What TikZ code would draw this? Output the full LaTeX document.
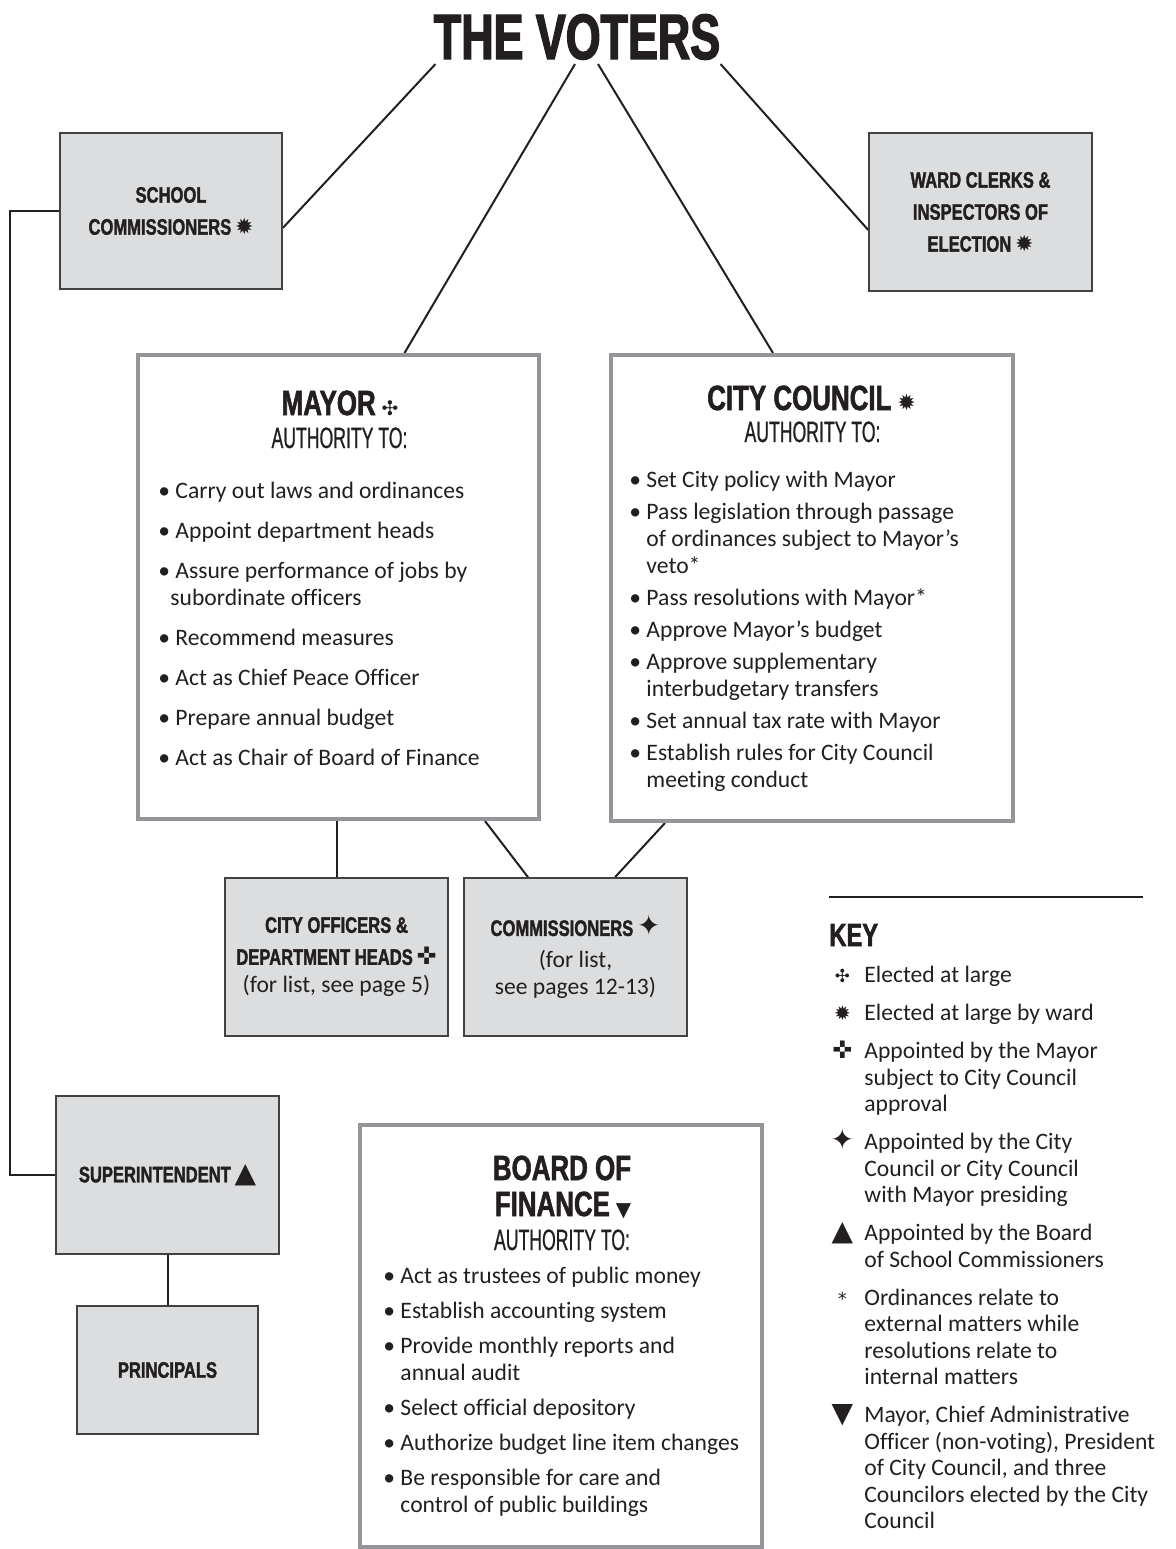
\documentclass[tikz,border=0pt]{standalone}
\usepackage{fontspec}
\setmainfont[Ligatures=NoCommon]{Carlito}
\newfontfamily\headfont[FakeStretch=0.74,BoldFeatures={FakeBold=1.6}]{Liberation Sans}
\newfontfamily\titlefont[FakeStretch=0.7,BoldFeatures={FakeBold=2.2}]{Liberation Sans}
\newfontfamily\subheadfont[FakeStretch=0.6,FakeBold=0.7]{Liberation Sans}
\newfontfamily\symfont{DejaVu Sans}
\usetikzlibrary{backgrounds}

\definecolor{ink}{HTML}{231F20}
\definecolor{boxgray}{HTML}{DCDDDE}
\definecolor{framegray}{HTML}{939598}

% symbol at a given size
\newcommand{\sym}[2]{{\symfont\fontsize{#1}{#1}\selectfont #2}}
\newcommand{\keysym}[2]{\makebox[16pt][l]{\makebox[10pt][c]{\sym{#1}{#2}}}}
\newcommand{\keyrest}{\hspace*{16pt}}

\begin{document}
\begin{tikzpicture}[x=0.5pt, y=-0.5pt,
    graybox/.style={draw=ink!85, line width=0.8pt, fill=boxgray, align=center, inner sep=0pt, text=ink,
      font=\headfont\bfseries\fontsize{11.2}{16}\selectfont},
    bigbox/.style={draw=framegray, line width=2pt, fill=white, inner sep=0pt},
    heading/.style={anchor=base, inner sep=0pt, text=ink, font=\headfont\bfseries\fontsize{17.5}{18}\selectfont},
    subhead/.style={anchor=base, inner sep=0pt, text=ink, font=\subheadfont\fontsize{14.7}{15}\selectfont},
    listtxt/.style={anchor=north west, align=left, inner sep=0pt, text=ink, font=\fontsize{11.8}{13.5}\selectfont},
    link/.style={draw=ink, line width=1pt}]

  \useasboundingbox (0,0) rectangle (1175,1549);

  \node[heading, font=\titlefont\bfseries\fontsize{32}{32}\selectfont] (voters) at (577,59) {THE VOTERS};

  % elected offices
  \node[graybox, minimum width=111pt, minimum height=78pt] (school) at (171,211)
    {SCHOOL\\COMMISSIONERS\,\sym{11}{✹}};
  \node[graybox, minimum width=111.5pt, minimum height=79pt] (ward) at (980.5,212)
    {WARD CLERKS \&\\INSPECTORS OF\\ELECTION\,\sym{11}{✹}};

  \node[bigbox, minimum width=200.5pt, minimum height=232pt] (mayor) at (338.5,587) {};
  \node[heading] (mayorhead) at (340,415) {MAYOR\,\sym{10}{✣}};
  \node[subhead] (mayorauth) at (339.5,448) {AUTHORITY TO:};
  \node[listtxt] (mayorlist) at (158,482) {%
    • Carry out laws and ordinances\\[6.5pt]
    • Appoint department heads\\[6.5pt]
    • Assure performance of jobs by\\
    \hspace*{6pt}subordinate officers\\[6.5pt]
    • Recommend measures\\[6.5pt]
    • Act as Chief Peace Officer\\[6.5pt]
    • Prepare annual budget\\[6.5pt]
    • Act as Chair of Board of Finance};

  \node[bigbox, minimum width=201pt, minimum height=233pt] (council) at (812,588) {};
  \node[heading] (councilhead) at (811.5,410) {CITY COUNCIL\,\sym{11}{✹}};
  \node[subhead] (councilauth) at (812.5,442) {AUTHORITY TO:};
  \node[listtxt] (councillist) at (629,471) {%
    • Set City policy with Mayor\\[2.5pt]
    • Pass legislation through passage\\
    \phantom{•} of ordinances subject to Mayor’s\\
    \phantom{•} veto*\\[2.5pt]
    • Pass resolutions with Mayor*\\[2.5pt]
    • Approve Mayor’s budget\\[2.5pt]
    • Approve supplementary\\
    \phantom{•} interbudgetary transfers\\[2.5pt]
    • Set annual tax rate with Mayor\\[2.5pt]
    • Establish rules for City Council\\
    \phantom{•} meeting conduct};

  % appointed offices
  \node[graybox, minimum width=111.5pt, minimum height=79pt] (officers) at (336.5,957)
    {CITY OFFICERS \&\\DEPARTMENT HEADS\,\sym{12}{✜}\\[-2pt]
     {\normalfont\fontsize{11.8}{14}\selectfont (for list, see page 5)}};
  \node[graybox, minimum width=111.5pt, minimum height=79pt] (commish) at (575.5,957)
    {COMMISSIONERS\,\sym{14}{✦}\\
     {\normalfont\fontsize{11.8}{14}\selectfont (for list,}\\[-2.5pt]
     {\normalfont\fontsize{11.8}{14}\selectfont see pages 12-13)}};

  \node[graybox, minimum width=111.5pt, minimum height=79pt] (super) at (167.5,1175)
    {SUPERINTENDENT\,\sym{14}{▲}};
  \node[graybox, minimum width=90.5pt, minimum height=64pt] (princ) at (167.5,1370) {PRINCIPALS};

  \node[bigbox, minimum width=201pt, minimum height=211pt] (board) at (561,1336) {};
  \node[heading] (boardhead) at (562,1180) {BOARD OF};
  \node[heading] (boardhead2) at (563,1216) {FINANCE\,\sym{10}{▼}};
  \node[subhead] (boardauth) at (562,1250) {AUTHORITY TO:};
  \node[listtxt] (boardlist) at (383,1267) {%
    • Act as trustees of public money\\[4pt]
    • Establish accounting system\\[4pt]
    • Provide monthly reports and\\
    \phantom{•} annual audit\\[4pt]
    • Select official depository\\[4pt]
    • Authorize budget line item changes\\[4pt]
    • Be responsible for care and\\
    \phantom{•} control of public buildings};

  % key
  \coordinate (keyrule-l) at (829,897);
  \coordinate (keyrule-r) at (1143,897);
  \draw[link] (keyrule-l) -- (keyrule-r);
  \node[heading, anchor=base west, font=\headfont\bfseries\fontsize{16}{16}\selectfont] (keyhead) at (829,946) {KEY};
  \node[listtxt, font=\fontsize{11.8}{13.25}\selectfont] (keylist) at (832,966) {%
    \keysym{9}{✣}Elected at large\\[5.75pt]
    \keysym{10}{✹}Elected at large by ward\\[5.75pt]
    \keysym{12}{✜}Appointed by the Mayor\\
    \keyrest subject to City Council\\
    \keyrest approval\\[5.75pt]
    \keysym{14}{✦}Appointed by the City\\
    \keyrest Council or City Council\\
    \keyrest with Mayor presiding\\[5.75pt]
    \keysym{14}{▲}Appointed by the Board\\
    \keyrest of School Commissioners\\[5.75pt]
    \keysym{9}{*}Ordinances relate to\\
    \keyrest external matters while\\
    \keyrest resolutions relate to\\
    \keyrest internal matters\\[5.75pt]
    \keysym{14}{▼}Mayor, Chief Administrative\\
    \keyrest Officer (non-voting), President\\
    \keyrest of City Council, and three\\
    \keyrest Councilors elected by the City\\
    \keyrest Council};

  % connectors
  \begin{scope}[on background layer]
    \draw[link] ([xshift=1pt,yshift=-2pt]voters.south west) -- ([yshift=-8.5pt]school.east);
    \draw[link] ([xshift=-1pt,yshift=-2pt]voters.south) -- ([xshift=33pt]mayor.north);
    \draw[link] ([xshift=10.5pt,yshift=-2pt]voters.south) -- ([xshift=-19.5pt]council.north);
    \draw[link] ([yshift=-2pt]voters.south east) -- ([yshift=-9pt]ward.west);
    \draw[link] (school.west) -- ++(-49,0) |- (super.west);
    \draw[link] (super.south) -- (princ.north);
    \draw[link] (mayor.south -| officers.north) -- (officers.north);
    \draw[link] ([xshift=73.25pt]mayor.south) -- ([xshift=-23.75pt]commish.north);
    \draw[link] ([xshift=-73.5pt]council.south) -- ([xshift=19.75pt]commish.north);
  \end{scope}
\end{tikzpicture}
\end{document}
